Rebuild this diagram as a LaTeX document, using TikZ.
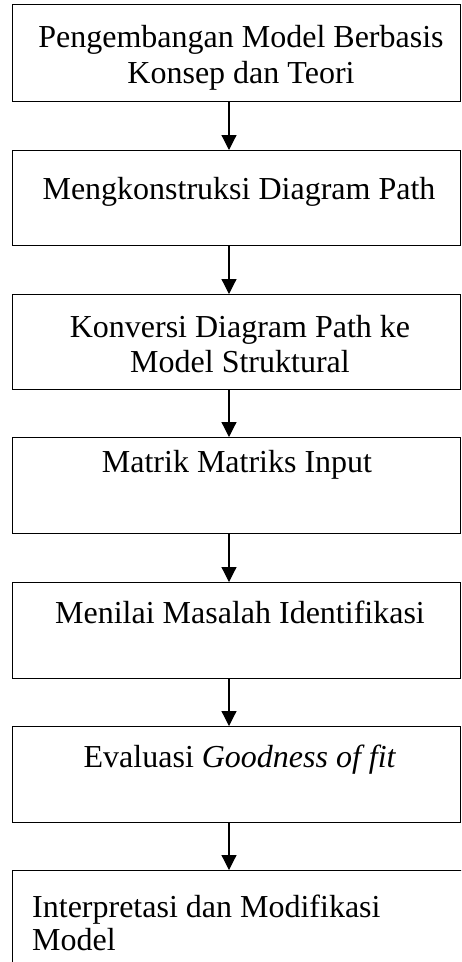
\documentclass[tikz,border=0pt]{standalone}
\usepackage{fontspec}
\setmainfont{Liberation Serif}
\usetikzlibrary{arrows.meta}
\tikzset{
  stepbox/.style={draw, line width=1.4pt, rectangle, inner sep=0pt, anchor=north west},
  label/.style={inner sep=0pt, anchor=base, font=\fontsize{32pt}{38pt}\selectfont},
  flow/.style={line width=1.2pt, -{Triangle[width=15pt,length=15pt]}, shorten >=0pt}
}
\begin{document}
\begin{tikzpicture}[x=1pt,y=1pt]
  \useasboundingbox (0,0) rectangle (461,-962);
  \clip (0,0) rectangle (461,-962);
  % boxes
  \node[stepbox, minimum width=448pt, minimum height=97pt] (b1) at (12,-4) {};
  \node[stepbox, minimum width=448pt, minimum height=95pt] (b2) at (12,-150) {};
  \node[stepbox, minimum width=448pt, minimum height=95pt] (b3) at (12,-294) {};
  \node[stepbox, minimum width=448pt, minimum height=96pt] (b4) at (12,-437) {};
  \node[stepbox, minimum width=448pt, minimum height=96pt] (b5) at (12,-582) {};
  \node[stepbox, minimum width=448pt, minimum height=96pt] (b6) at (12,-726) {};
  \node[stepbox, minimum width=460pt, minimum height=140pt] (b7) at (12,-870) {};
  % texts
  \node[label] (t1a) at (241,-47) {Pengembangan Model Berbasis};
  \node[label] (t1b) at (241,-83) {Konsep dan Teori};
  \node[label] (t2) at (239,-199) {Mengkonstruksi Diagram Path};
  \node[label] (t3a) at (240,-337) {Konversi Diagram Path ke};
  \node[label] (t3b) at (240,-372) {Model Struktural};
  \node[label] (t4) at (237,-472) {Matrik Matriks Input};
  \node[label] (t5) at (240,-623) {Menilai Masalah Identifikasi};
  \node[label] (t6) at (240,-767) {Evaluasi \textit{Goodness of fit}};
  \node[label, anchor=base west] (t7a) at (32,-917) {Interpretasi dan Modifikasi};
  \node[label, anchor=base west] (t7b) at (32,-950) {Model};
  % connectors
  \coordinate (ax) at (229,0);
  \foreach \a/\b in {b1/b2,b2/b3,b3/b4,b4/b5,b5/b6,b6/b7}
    \draw[flow] (\a.south -| ax) -- (\b.north -| ax);
\end{tikzpicture}
\end{document}
